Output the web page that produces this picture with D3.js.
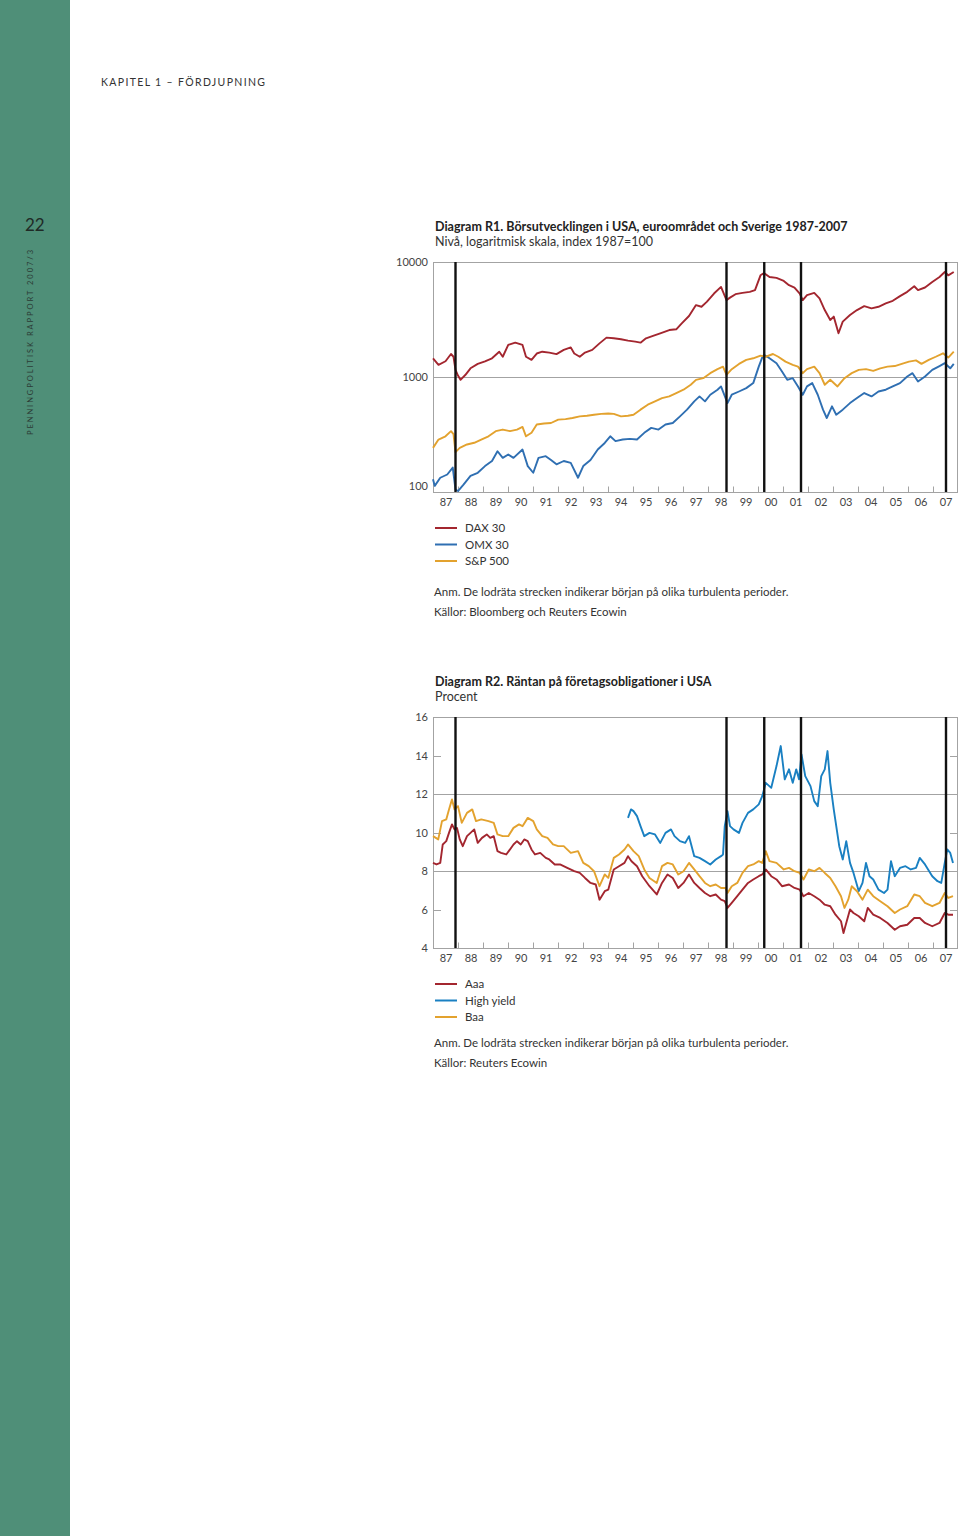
<!DOCTYPE html>
<html>
<head>
<meta charset="utf-8">
<script src="https://cdn.jsdelivr.net/npm/d3@7"></script>
<style>
  body { margin: 0; background: #fff; }
  svg { display: block; font-family: Lato, "Open Sans", sans-serif; }
</style>
</head>
<body>
<svg id="page" width="960" height="1536"></svg>
<script>
// Diagram R1: börsindex, [år, nivå]
const dax = [
  [1987.00,1455],[1987.22,1275],[1987.50,1370],[1987.72,1585],[1987.82,1500],[1987.90,1153],[1988.00,1030],[1988.10,945],
  [1988.29,1040],[1988.50,1190],[1988.79,1300],[1989.08,1370],[1989.36,1455],[1989.65,1660],[1989.79,1500],[1990.01,1900],
  [1990.29,1990],[1990.58,1900],[1990.72,1500],[1990.94,1410],[1991.15,1600],[1991.37,1660],[1991.65,1630],[1991.94,1580],
  [1992.23,1720],[1992.51,1810],[1992.65,1600],[1992.87,1500],[1993.08,1630],[1993.37,1720],[1993.66,1960],[1993.94,2200],
  [1994.23,2170],[1994.52,2130],[1994.80,2070],[1995.09,2030],[1995.30,1990],[1995.52,2170],[1995.80,2280],[1996.09,2400],
  [1996.45,2560],[1996.73,2600],[1996.95,2930],[1997.24,3390],[1997.52,4220],[1997.74,4080],[1997.95,4500],[1998.24,5320],
  [1998.52,6070],[1998.74,4660],[1998.88,4900],[1999.10,5250],[1999.38,5390],[1999.67,5500],[1999.88,5690],[2000.10,7660],
  [2000.24,8000],[2000.46,7410],[2000.74,7270],[2001.03,6850],[2001.24,6280],[2001.46,6000],[2001.67,5320],[2001.79,4660],
  [2001.96,5150],[2002.25,5390],[2002.46,4820],[2002.67,3820],[2002.89,3130],[2003.03,3350],[2003.22,2400],[2003.39,3030],
  [2003.68,3460],[2003.96,3820],[2004.25,4130],[2004.54,3950],[2004.82,4080],[2005.11,4360],[2005.39,4600],[2005.68,5050],
  [2005.97,5500],[2006.25,6150],[2006.40,5690],[2006.68,6000],[2006.97,6710],[2007.26,7410],[2007.47,8180],[2007.61,7660],
  [2007.83,8180]
];
const omx = [
  [1987.00,129],[1987.07,113],[1987.29,133],[1987.57,142],[1987.79,163],[1987.90,105],[1988.00,102],[1988.22,116],
  [1988.50,138],[1988.79,147],[1989.08,168],[1989.36,186],[1989.58,226],[1989.79,198],[1990.01,212],[1990.22,198],
  [1990.58,234],[1990.79,168],[1991.01,147],[1991.22,198],[1991.51,205],[1991.72,190],[1991.94,174],[1992.23,186],
  [1992.51,179],[1992.80,133],[1993.01,168],[1993.30,190],[1993.59,234],[1993.87,267],[1994.09,305],[1994.30,277],
  [1994.59,286],[1994.87,290],[1995.16,286],[1995.45,327],[1995.73,361],[1996.02,349],[1996.30,386],[1996.59,398],
  [1996.88,455],[1997.16,520],[1997.45,614],[1997.66,678],[1997.88,614],[1998.09,701],[1998.38,775],[1998.52,828],
  [1998.78,593],[1998.95,701],[1999.24,748],[1999.53,800],[1999.81,885],[2000.03,1232],[2000.17,1480],[2000.24,1560],
  [2000.46,1455],[2000.74,1318],[2000.96,1117],[2001.17,945],[2001.39,977],[2001.60,828],[2001.79,701],[2001.96,828],
  [2002.17,885],[2002.39,701],[2002.60,520],[2002.75,440],[2002.96,556],[2003.13,470],[2003.39,520],[2003.68,593],
  [2003.96,656],[2004.25,725],[2004.54,678],[2004.82,748],[2005.11,775],[2005.39,828],[2005.68,885],[2005.97,1010],
  [2006.18,1080],[2006.40,914],[2006.68,1010],[2006.97,1153],[2007.26,1245],[2007.47,1318],[2007.69,1190],[2007.83,1300]
];
const sp500 = [
  [1987.00,242],[1987.22,286],[1987.50,305],[1987.72,338],[1987.82,318],[1987.90,222],[1988.07,242],[1988.36,259],
  [1988.65,268],[1988.93,286],[1989.22,305],[1989.51,338],[1989.79,349],[1990.08,338],[1990.36,349],[1990.58,368],
  [1990.72,305],[1990.94,328],[1991.15,386],[1991.44,394],[1991.72,398],[1992.01,426],[1992.30,430],[1992.58,440],
  [1992.87,455],[1993.16,460],[1993.44,470],[1993.73,478],[1994.01,482],[1994.23,478],[1994.52,455],[1994.80,460],
  [1995.02,470],[1995.30,520],[1995.59,574],[1995.88,614],[1996.16,656],[1996.45,678],[1996.73,725],[1997.02,775],
  [1997.31,856],[1997.52,945],[1997.81,977],[1998.09,1080],[1998.38,1170],[1998.60,1230],[1998.74,1045],[1998.95,1170],
  [1999.24,1300],[1999.53,1410],[1999.81,1455],[2000.10,1535],[2000.31,1500],[2000.60,1585],[2000.81,1500],[2001.10,1360],
  [2001.39,1275],[2001.60,1230],[2001.79,1080],[2001.96,1170],[2002.25,1230],[2002.46,1080],[2002.67,856],[2002.89,945],
  [2003.18,828],[2003.46,977],[2003.75,1080],[2004.03,1153],[2004.32,1170],[2004.61,1130],[2004.89,1190],[2005.18,1230],
  [2005.47,1245],[2005.75,1300],[2006.04,1360],[2006.32,1395],[2006.54,1300],[2006.83,1410],[2007.11,1500],[2007.40,1608],
  [2007.61,1475],[2007.83,1660]
];

// Diagram R2: räntor, procent
const aaa = [
  [1987.00,8.42],[1987.14,8.34],[1987.29,8.42],[1987.39,9.38],[1987.53,9.55],[1987.64,9.98],[1987.76,10.42],[1987.86,10.16],
  [1987.96,10.24],[1988.07,9.64],[1988.19,9.29],[1988.36,9.81],[1988.50,9.98],[1988.65,10.16],[1988.79,9.46],[1988.96,9.72],
  [1989.15,9.9],[1989.29,9.72],[1989.43,9.81],[1989.58,9.03],[1989.72,8.94],[1989.93,8.86],[1990.08,9.12],[1990.22,9.38],
  [1990.36,9.55],[1990.51,9.38],[1990.65,9.64],[1990.79,9.55],[1990.94,9.12],[1991.08,8.86],[1991.29,8.94],[1991.51,8.68],
  [1991.65,8.6],[1991.87,8.34],[1992.08,8.34],[1992.37,8.16],[1992.65,7.99],[1992.87,7.9],[1993.08,7.64],[1993.30,7.38],
  [1993.51,7.3],[1993.66,6.51],[1993.87,6.95],[1994.01,7.03],[1994.23,8.08],[1994.44,8.25],[1994.66,8.42],[1994.80,8.77],
  [1994.94,8.51],[1995.16,8.25],[1995.37,7.73],[1995.66,7.21],[1995.95,6.78],[1996.16,7.38],[1996.38,7.82],[1996.59,7.64],
  [1996.81,7.12],[1997.02,7.38],[1997.24,7.82],[1997.45,7.38],[1997.66,7.12],[1997.88,6.86],[1998.09,6.69],[1998.31,6.78],
  [1998.52,6.51],[1998.67,6.43],[1998.78,6.08],[1998.95,6.34],[1999.17,6.69],[1999.38,7.03],[1999.60,7.38],[1999.81,7.56],
  [2000.03,7.73],[2000.17,7.82],[2000.31,8.08],[2000.53,7.73],[2000.74,7.56],[2000.96,7.21],[2001.24,7.3],[2001.46,7.12],
  [2001.67,7.03],[2001.82,6.69],[2002.03,6.86],[2002.25,6.69],[2002.46,6.51],[2002.67,6.25],[2002.89,6.17],[2003.10,5.73],
  [2003.32,5.39],[2003.42,4.78],[2003.53,5.3],[2003.68,6.0],[2003.82,5.82],[2004.03,5.65],[2004.25,5.39],[2004.39,6.08],
  [2004.61,5.73],[2004.89,5.56],[2005.18,5.3],[2005.47,4.95],[2005.68,5.13],[2005.97,5.21],[2006.25,5.56],[2006.47,5.56],
  [2006.68,5.3],[2006.97,5.13],[2007.26,5.3],[2007.47,5.82],[2007.61,5.73],[2007.80,5.73]
];
const highYield = [
  [1994.80,10.76],[1994.92,11.2],[1995.02,11.11],[1995.16,10.85],[1995.30,10.33],[1995.45,9.81],[1995.66,9.98],[1995.88,9.9],
  [1996.09,9.46],[1996.30,9.98],[1996.52,10.16],[1996.66,9.81],[1996.88,9.55],[1997.09,9.46],[1997.24,9.81],[1997.45,8.77],
  [1997.66,8.68],[1997.88,8.51],[1998.09,8.34],[1998.31,8.6],[1998.52,8.77],[1998.60,8.86],[1998.67,10.33],[1998.78,11.11],
  [1998.88,10.33],[1999.02,10.16],[1999.24,9.98],[1999.38,10.5],[1999.60,11.02],[1999.81,11.2],[2000.03,11.46],[2000.17,11.89],
  [2000.31,12.58],[2000.53,12.32],[2000.74,13.45],[2000.91,14.49],[2001.07,12.76],[2001.24,13.28],[2001.39,12.58],[2001.53,13.28],
  [2001.64,12.76],[2001.74,14.06],[2001.89,12.93],[2002.10,12.41],[2002.25,11.63],[2002.39,11.37],[2002.53,12.93],[2002.67,13.28],
  [2002.78,14.23],[2002.89,12.58],[2003.03,11.2],[2003.25,9.29],[2003.39,8.6],[2003.53,9.55],[2003.68,8.42],[2003.82,7.9],
  [2004.03,6.95],[2004.18,7.38],[2004.32,8.42],[2004.46,7.73],[2004.61,7.56],[2004.82,7.03],[2005.04,6.86],[2005.18,7.03],
  [2005.32,8.51],[2005.47,7.73],[2005.68,8.16],[2005.90,8.25],[2006.11,8.08],[2006.32,8.16],[2006.47,8.68],[2006.68,8.34],
  [2006.97,7.73],[2007.18,7.47],[2007.33,7.38],[2007.47,8.42],[2007.57,9.12],[2007.69,8.94],[2007.80,8.42]
];
const baa = [
  [1987.00,9.81],[1987.21,9.64],[1987.36,10.59],[1987.53,10.68],[1987.64,11.2],[1987.76,11.72],[1987.86,11.2],[1988.00,11.37],
  [1988.15,10.5],[1988.36,11.02],[1988.57,11.2],[1988.72,10.59],[1988.93,10.68],[1989.22,10.59],[1989.43,10.5],[1989.58,9.9],
  [1989.79,9.81],[1990.01,9.81],[1990.22,10.24],[1990.44,10.42],[1990.58,10.33],[1990.79,10.76],[1991.01,10.59],[1991.15,10.16],
  [1991.37,9.81],[1991.58,9.72],[1991.80,9.38],[1992.01,9.29],[1992.23,9.29],[1992.51,8.94],[1992.80,9.03],[1993.01,8.42],
  [1993.23,8.25],[1993.44,7.99],[1993.66,7.21],[1993.87,7.82],[1994.01,7.64],[1994.23,8.68],[1994.44,8.86],[1994.66,9.12],
  [1994.80,9.38],[1995.02,9.03],[1995.23,8.77],[1995.45,8.08],[1995.66,7.64],[1995.95,7.38],[1996.16,8.25],[1996.38,8.42],
  [1996.59,8.34],[1996.81,7.82],[1997.02,7.99],[1997.24,8.42],[1997.45,8.08],[1997.66,7.73],[1997.88,7.38],[1998.09,7.21],
  [1998.31,7.3],[1998.52,7.12],[1998.70,7.12],[1998.78,6.86],[1998.95,7.21],[1999.17,7.38],[1999.38,7.9],[1999.60,8.25],
  [1999.81,8.34],[2000.03,8.51],[2000.17,8.42],[2000.31,9.03],[2000.46,8.51],[2000.74,8.42],[2001.03,8.08],[2001.24,8.16],
  [2001.46,7.99],[2001.67,7.9],[2001.82,7.56],[2002.03,8.08],[2002.25,7.99],[2002.46,8.16],[2002.67,7.9],[2002.89,7.64],
  [2003.10,7.21],[2003.32,6.69],[2003.46,6.08],[2003.61,6.51],[2003.75,7.21],[2003.96,6.95],[2004.18,6.51],[2004.39,7.03],
  [2004.61,6.69],[2004.89,6.43],[2005.18,6.17],[2005.47,5.82],[2005.68,6.0],[2005.97,6.17],[2006.25,6.78],[2006.47,6.69],
  [2006.68,6.34],[2006.97,6.17],[2007.26,6.34],[2007.47,6.86],[2007.61,6.6],[2007.80,6.69]
];

// lodräta strecken (början på turbulenta perioder)
const turbulens = [1987.9, 1998.74, 2000.25, 2001.72, 2007.52];
const years = d3.range(1987, 2008);
const r1Ticks = [100, 1000, 10000];
const r2Ticks = [4, 6, 8, 10, 12, 14, 16];

const svg = d3.select("#page");

// sidlist
svg.append("rect").attr("x", 0).attr("y", 0).attr("width", 70).attr("height", 1536).attr("fill", "#4f8f78");
svg.append("text").attr("x", 25).attr("y", 231).attr("font-size", 17).attr("fill", "#1f2a26").text("22");
svg.append("text")
  .attr("transform", "translate(33,435) rotate(-90)")
  .attr("font-size", 7.5).attr("fill", "#2b3b35")
  .attr("textLength", 185).attr("lengthAdjust", "spacing")
  .text("PENNINGPOLITISK RAPPORT 2007/3");
svg.append("text").attr("x", 101).attr("y", 86).attr("font-size", 10.5).attr("fill", "#333")
  .attr("textLength", 164).attr("lengthAdjust", "spacing")
  .text("KAPITEL 1 – FÖRDJUPNING");

const x = d3.scaleLinear().domain([1987, 2008]).range([433, 958]);

function drawChart(c) {
  const g = svg.append("g");
  const y = c.y;
  const top = y.range()[1], bottom = y.range()[0];

  g.append("text").attr("x", 435).attr("y", top - 31).attr("font-size", 12.5).attr("font-weight", 700)
    .attr("fill", "#222").text(c.title);
  g.append("text").attr("x", 435).attr("y", top - 16).attr("font-size", 12.5).attr("fill", "#333").text(c.subtitle);

  // ram och stödlinjer
  g.append("rect").attr("x", 433.5).attr("y", top + 0.5).attr("width", 524).attr("height", bottom - top)
    .attr("fill", "none").attr("stroke", "#a3a3a3");
  g.selectAll(".grid").data(c.grid).enter().append("line")
    .attr("x1", 433).attr("x2", 958).attr("y1", d => Math.round(y(d)) + 0.5).attr("y2", d => Math.round(y(d)) + 0.5)
    .attr("stroke", "#a3a3a3");
  g.selectAll(".ytl").data(c.inner).enter().append("line")
    .attr("x1", 433).attr("x2", 441).attr("y1", d => Math.round(y(d)) + 0.5).attr("y2", d => Math.round(y(d)) + 0.5)
    .attr("stroke", "#a3a3a3");
  g.selectAll(".ytr").data(c.inner).enter().append("line")
    .attr("x1", 950).attr("x2", 958).attr("y1", d => Math.round(y(d)) + 0.5).attr("y2", d => Math.round(y(d)) + 0.5)
    .attr("stroke", "#a3a3a3");

  // x-axel: streck vid årsskiften, etiketter mitt i året
  const ticks = g.append("g").attr("transform", `translate(0,${bottom + 0.5})`)
    .call(d3.axisBottom(x).tickValues(years.slice(1)).tickSize(-6).tickFormat(""));
  ticks.select(".domain").remove();
  ticks.selectAll("line").attr("stroke", "#a3a3a3");

  const lab = g.append("g").attr("transform", `translate(0,${bottom})`)
    .call(d3.axisBottom(x).tickValues(years.map(d => d + 0.5)).tickSize(0).tickPadding(6)
      .tickFormat(d => String(Math.floor(d) % 100).padStart(2, "0")));
  lab.select(".domain").remove();
  lab.selectAll("text").attr("font-family", "Lato, sans-serif").attr("font-size", 11).attr("fill", "#444");

  // y-etiketter
  const ya = g.append("g").attr("transform", "translate(428,0)")
    .call(d3.axisLeft(y).tickValues(c.yticks).tickSize(0).tickPadding(0).tickFormat(d => String(d)));
  ya.select(".domain").remove();
  ya.selectAll("text").attr("font-family", "Lato, sans-serif").attr("font-size", 11).attr("fill", "#444")
    .attr("dy", d => (d === c.liftTick ? "-0.2em" : "0.32em"));

  // serier
  const line = d3.line().x(d => x(d[0])).y(d => y(d[1]));
  c.series.forEach(s => {
    g.append("path").datum(s.data).attr("d", line).attr("fill", "none")
      .attr("stroke", s.color).attr("stroke-width", 1.9).attr("stroke-linejoin", "round");
  });

  g.selectAll(".turb").data(turbulens).enter().append("line")
    .attr("x1", d => x(d)).attr("x2", d => x(d)).attr("y1", top).attr("y2", bottom)
    .attr("stroke", "#111").attr("stroke-width", 2.4);

  // teckenförklaring
  c.series.forEach((s, i) => {
    const ly = bottom + 36 + i * 16.5;
    g.append("line").attr("x1", 435).attr("x2", 457).attr("y1", ly).attr("y2", ly)
      .attr("stroke", s.color).attr("stroke-width", 2);
    g.append("text").attr("x", 465).attr("y", ly + 4).attr("font-size", 11.5).attr("fill", "#333").text(s.name);
  });

  c.notes.forEach((n, i) => {
    g.append("text").attr("x", 434).attr("y", c.noteY + i * 20).attr("font-size", 11.5).attr("fill", "#333").text(n);
  });
}

drawChart({
  title: "Diagram R1. Börsutvecklingen i USA, euroområdet och Sverige 1987-2007",
  subtitle: "Nivå, logaritmisk skala, index 1987=100",
  y: d3.scaleLog().domain([100, 10000]).range([492, 262]),
  yticks: r1Ticks, liftTick: 100,
  grid: [1000], inner: [],
  series: [
    { name: "DAX 30", data: dax, color: "#a3262f" },
    { name: "OMX 30", data: omx, color: "#2f6fb2" },
    { name: "S&P 500", data: sp500, color: "#e3a22e" }
  ],
  notes: ["Anm. De lodräta strecken indikerar början på olika turbulenta perioder.",
          "Källor: Bloomberg och Reuters Ecowin"],
  noteY: 596
});

drawChart({
  title: "Diagram R2. Räntan på företagsobligationer i USA",
  subtitle: "Procent",
  y: d3.scaleLinear().domain([4, 16]).range([948, 717]),
  yticks: r2Ticks, liftTick: null,
  grid: [8, 12], inner: [6, 10, 14],
  series: [
    { name: "Aaa", data: aaa, color: "#a3262f" },
    { name: "High yield", data: highYield, color: "#1a80c2" },
    { name: "Baa", data: baa, color: "#e3a22e" }
  ],
  notes: ["Anm. De lodräta strecken indikerar början på olika turbulenta perioder.",
          "Källor: Reuters Ecowin"],
  noteY: 1047
});
</script>
</body>
</html>
